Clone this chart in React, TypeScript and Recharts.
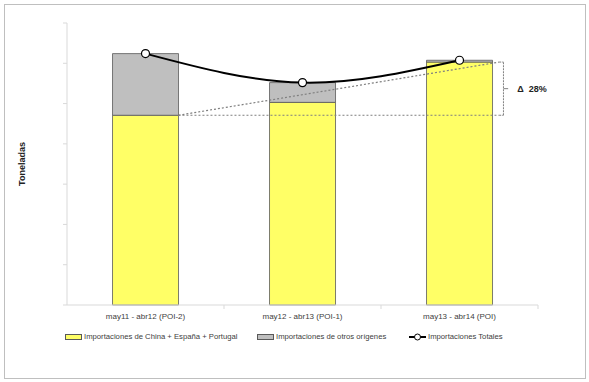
import {
  ComposedChart,
  Bar,
  Line,
  XAxis,
  YAxis,
  ReferenceLine,
} from "recharts";

// periods and volumes (tonnes)
const periods = ["may11 - abr12 (POI-2)", "may12 - abr13 (POI-1)", "may13 - abr14 (POI)"];
const chinaEspPor = [4710, 5030, 6030];
const otrosOrigenes = [1530, 490, 45];
const totales = [6240, 5520, 6075];
const yTicks = [0, 1000, 2000, 3000, 4000, 5000, 6000, 7000];
const deltaLabel = "Δ\u00a0\u00a028%";

const legendItems = [
  { name: "Importaciones de China + España + Portugal", kind: "bar", color: "#FFFF66", left: 65 },
  { name: "Importaciones de otros orígenes", kind: "bar", color: "#BFBFBF", left: 257 },
  { name: "Importaciones Totales", kind: "line", color: "#000", left: 409 },
];

const data = periods.map((p, i) => ({
  period: p,
  china: chinaEspPor[i],
  otros: otrosOrigenes[i],
  total: totales[i],
}));

const FONT = "'Liberation Sans', Arial, sans-serif";
const base = chinaEspPor[0];
const last = chinaEspPor[2];

// annotation segments always span first -> last category, so the shape can
// work out the band width from the scaled points; offsets are in band units
// measured from the first category centre
type Seg = { x1: number; y1: number; x2: number; y2: number };
const annot =
  (from: number, to: number, style: Record<string, unknown>, text?: string) =>
  (p: Seg) => {
    const band = (p.x2 - p.x1) / 2;
    const ax = p.x1 + from * band;
    const bx = p.x1 + to * band;
    return (
      <g>
        <line x1={ax} y1={p.y1} x2={bx} y2={p.y2} {...style} />
        {text && (
          <text x={bx + 9} y={p.y2} dy={3} fontSize={9} fontWeight="bold" fill="#222" fontFamily={FONT}>
            {text}
          </text>
        )}
      </g>
    );
  };

const dotted = { stroke: "#7f7f7f", strokeWidth: 1.2, strokeDasharray: "2 2" };
const bracket = { stroke: "#808080", strokeWidth: 1, strokeDasharray: "2 1" };
const axisTick = { stroke: "#d9d9d9", strokeWidth: 1 };

const barEdge = 0.21;
const brX = 2.28;
const brIn = 2.253;
const brOut = 2.31;
const mid = (base + last) / 2;

const span = (ya: number, yb: number) => [
  { x: periods[0], y: ya },
  { x: periods[2], y: yb },
];

export default function App() {
  return (
    <div style={{ position: "absolute", left: 0, top: 0, width: 589, height: 382, background: "#fff", fontFamily: FONT }}>
      <div style={{ position: "absolute", left: 4, top: 4, width: 580, height: 373, border: "1px solid #bfbfbf" }} />
      <div style={{ position: "absolute", left: 0, top: 0 }}>
        <ComposedChart
          width={589}
          height={382}
          data={data}
          margin={{ top: 23, right: 51, bottom: 47, left: 0 }}
          barCategoryGap="29%"
        >
          <XAxis
            dataKey="period"
            axisLine={{ stroke: "#d9d9d9" }}
            tickLine={false}
            height={30}
            tick={{ fontSize: 8, fill: "#404040", fontFamily: FONT }}
            tickMargin={2}
          />
          <YAxis
            width={67}
            domain={[0, 7000]}
            ticks={yTicks}
            tick={() => <g />}
            tickSize={4}
            tickLine={{ stroke: "#d9d9d9" }}
            axisLine={{ stroke: "#d9d9d9" }}
            label={{
              value: "Toneladas",
              angle: -90,
              position: "insideLeft",
              offset: 22,
              style: { fontSize: 9, fontWeight: "bold", fill: "#222", fontFamily: FONT, textAnchor: "middle" },
            }}
          />
          {[0.5, 1.5, 2.5].map((b) => (
            <ReferenceLine key={b} ifOverflow="visible" segment={span(0, -100)} shape={annot(b, b, axisTick)} />
          ))}
          <Bar dataKey="china" stackId="a" fill="#FFFF66" stroke="#595959" strokeWidth={0.8} isAnimationActive={false} />
          <Bar dataKey="otros" stackId="a" fill="#BFBFBF" stroke="#595959" strokeWidth={0.8} isAnimationActive={false} />
          <ReferenceLine segment={span(base, base)} shape={annot(barEdge, brIn, dotted)} />
          <ReferenceLine segment={span(base, last)} shape={annot(barEdge, brIn, dotted)} />
          <ReferenceLine segment={span(base, last)} shape={annot(brX, brX, bracket)} />
          <ReferenceLine segment={span(last, last)} shape={annot(brIn, brX, bracket)} />
          <ReferenceLine segment={span(base, base)} shape={annot(brIn, brX, bracket)} />
          <ReferenceLine segment={span(mid, mid)} shape={annot(brX, brOut, { stroke: "#808080", strokeWidth: 1 }, deltaLabel)} />
          <Line
            dataKey="total"
            type="natural"
            stroke="#000"
            strokeWidth={2}
            dot={{ r: 4, fill: "#fff", stroke: "#000", strokeWidth: 1.2 }}
            isAnimationActive={false}
          />
        </ComposedChart>
      </div>
      {legendItems.map((it) => (
        <div
          key={it.name}
          style={{ position: "absolute", left: it.left, top: 332, display: "flex", alignItems: "center", fontSize: 7.7, color: "#404040", whiteSpace: "nowrap" }}
        >
          {it.kind === "bar" ? (
            <span style={{ display: "inline-block", width: 15, height: 4, background: it.color, border: "1px solid #595959", marginRight: 2 }} />
          ) : (
            <svg width={17} height={8} style={{ marginRight: 2 }}>
              <line x1={0} y1={4} x2={17} y2={4} stroke="#000" strokeWidth={2} />
              <circle cx={8.5} cy={4} r={3} fill="#fff" stroke="#000" strokeWidth={1} />
            </svg>
          )}
          <span>{it.name}</span>
        </div>
      ))}
    </div>
  );
}
